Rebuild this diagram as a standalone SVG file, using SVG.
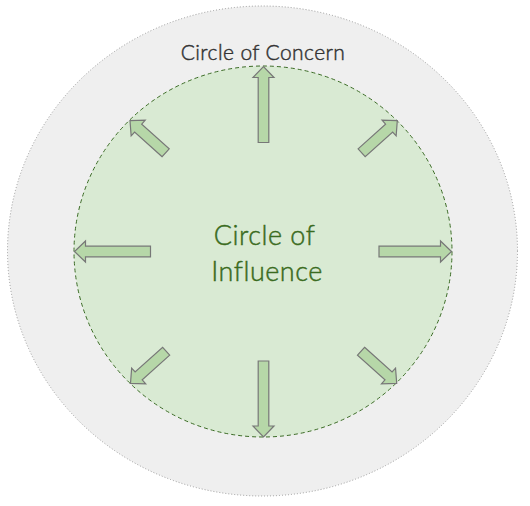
<svg xmlns="http://www.w3.org/2000/svg" width="530" height="506" viewBox="0 0 530 506">
<defs>
<style>
.arrow{fill:#b6d7a8;stroke:#777777;stroke-width:1.2;stroke-linejoin:miter}
.t{font-family:Lato,"Noto Sans",sans-serif;text-anchor:middle;font-weight:300;stroke-width:0.45}
</style>
<polygon id="longArrow" points="-76,-5.3 -11,-5.3 -11,-10.5 0,0 -11,10.5 -11,5.3 -76,5.3"/>
<polygon id="rightArrow" points="-72.5,-5.3 -11,-5.3 -11,-10.5 0,0 -11,10.5 -11,5.3 -72.5,5.3"/>
<polygon id="shortArrow" points="-48,-5.3 -11,-5.3 -11,-10.5 0,0 -11,10.5 -11,5.3 -48,5.3"/>
</defs>
<rect width="530" height="506" fill="#ffffff"/>
<g id="concern">
<ellipse cx="262.5" cy="251" rx="255" ry="245" fill="#efefef" stroke="#9a9a9a" stroke-width="1" stroke-dasharray="1,2"/>
<text class="t" x="263" y="60" font-size="21" fill="#333333" stroke="#333333" letter-spacing="0.4">Circle of Concern</text>
</g>
<g id="influence">
<ellipse cx="263" cy="251.5" rx="189" ry="185.5" fill="#d9ead3" stroke="#3b6b25" stroke-width="1" stroke-dasharray="4,3"/>
<text class="t" x="264.5" y="245" font-size="27" fill="#3a6b20" stroke="#3a6b20" letter-spacing="0.5">Circle of</text>
<text class="t" x="267" y="281" font-size="27" fill="#3a6b20" stroke="#3a6b20" letter-spacing="0.5">Influence</text>
</g>
<g id="connectors">
<use href="#longArrow" class="arrow" transform="translate(263.5,66.5) rotate(-90)"/>
<use href="#longArrow" class="arrow" transform="translate(263.5,437) rotate(90)"/>
<use href="#longArrow" class="arrow" transform="translate(74.5,251.5) rotate(180)"/>
<use href="#rightArrow" class="arrow" transform="translate(451.5,251.5)"/>
<use href="#shortArrow" class="arrow" transform="translate(130,120.7) rotate(-138)"/>
<use href="#shortArrow" class="arrow" transform="translate(397.3,120.7) rotate(-42)"/>
<use href="#shortArrow" class="arrow" transform="translate(130.5,383.3) rotate(138)"/>
<use href="#shortArrow" class="arrow" transform="translate(396.7,383.3) rotate(42)"/>
</g>
</svg>
